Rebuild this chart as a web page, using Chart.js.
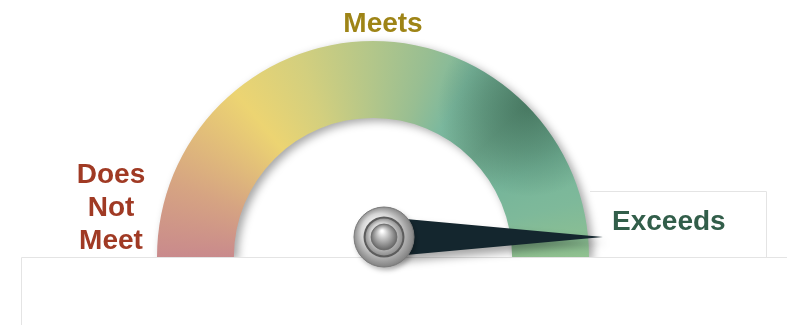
<!DOCTYPE html>
<html>
<head>
<meta charset="utf-8">
<title>Performance Gauge</title>
<script src="https://cdn.jsdelivr.net/npm/chart.js@4/dist/chart.umd.min.js"></script>
<style>
  html, body { margin: 0; padding: 0; background: #ffffff; }
  #gauge { display: block; }
</style>
</head>
<body>
<canvas id="gauge" width="787" height="325"></canvas>
<script>
// gauge scale and reading
const categories = ['Does Not Meet', 'Meets', 'Exceeds'];
const scaleMin = 0;
const scaleMax = 100;
const gaugeSpan = [scaleMax - scaleMin];
const needleValue = 100;

// colour stops along the arc, left end (0) to right end (0.5 of a full turn)
const stopPositions = [0, 0.056, 0.139, 0.194, 0.25, 0.292, 0.328, 0.375, 0.42, 0.458, 0.5];
const stopColors = ['#c98a8c', '#d6a482', '#ecd472', '#d3cf7e', '#b2c68a', '#98be92',
                    '#7bb89e', '#6fa88e', '#76b59a', '#7eb99a', '#90c190'];

const labelFont = 'bold 28px "Liberation Sans", Arial, sans-serif';

function gaugeCenter(chart) {
    const area = chart.chartArea;
    return {
        x: (area.left + area.right) / 2,
        y: area.bottom,
        r: (area.right - area.left) / 2
    };
}

// arc fill: conic colour sweep with a darker sheen on the upper right
let arcPattern = null;
function arcFill(context) {
    const chart = context.chart;
    if (!chart.chartArea) return stopColors[0];
    if (arcPattern) return arcPattern;
    const c = gaugeCenter(chart);
    const off = document.createElement('canvas');
    off.width = chart.width;
    off.height = chart.height;
    const o = off.getContext('2d');

    const g = o.createConicGradient(Math.PI, c.x, c.y);
    stopPositions.forEach((p, i) => g.addColorStop(p, stopColors[i]));
    g.addColorStop(1, stopColors[0]);
    o.fillStyle = g;
    o.fillRect(0, 0, off.width, off.height);

    const sx = c.x + c.r * 0.72, sy = c.y - c.r * 0.70;
    const sheen = o.createRadialGradient(sx, sy, 0, sx, sy, c.r * 0.42);
    sheen.addColorStop(0, 'rgba(40,82,62,0.55)');
    sheen.addColorStop(0.5, 'rgba(40,82,62,0.3)');
    sheen.addColorStop(1, 'rgba(40,82,62,0)');
    o.fillStyle = sheen;
    o.fillRect(0, 0, off.width, off.height);

    arcPattern = chart.ctx.createPattern(off, 'no-repeat');
    return arcPattern;
}

function drawHub(ctx, x, y) {
    ctx.save();
    ctx.shadowColor = 'rgba(0,0,0,0.3)';
    ctx.shadowBlur = 5;
    ctx.shadowOffsetX = 2;
    ctx.shadowOffsetY = 3;
    let g = ctx.createRadialGradient(x - 9, y - 11, 2, x, y, 32);
    g.addColorStop(0, '#ffffff');
    g.addColorStop(0.55, '#d6d6d6');
    g.addColorStop(1, '#777777');
    ctx.beginPath();
    ctx.arc(x, y, 30, 0, Math.PI * 2);
    ctx.fillStyle = g;
    ctx.fill();
    ctx.restore();

    ctx.beginPath();
    ctx.arc(x, y, 30, 0, Math.PI * 2);
    ctx.strokeStyle = '#7a7a7a';
    ctx.lineWidth = 1;
    ctx.stroke();

    // dark groove
    ctx.beginPath();
    ctx.arc(x, y, 20.5, 0, Math.PI * 2);
    ctx.fillStyle = '#5c5c5c';
    ctx.fill();

    g = ctx.createRadialGradient(x - 5, y - 7, 1, x, y, 19);
    g.addColorStop(0, '#fafafa');
    g.addColorStop(0.6, '#cfcfcf');
    g.addColorStop(1, '#8c8c8c');
    ctx.beginPath();
    ctx.arc(x, y, 18.5, 0, Math.PI * 2);
    ctx.fillStyle = g;
    ctx.fill();

    // centre ball
    g = ctx.createRadialGradient(x - 2, y - 6, 1, x, y, 14);
    g.addColorStop(0, '#ffffff');
    g.addColorStop(0.35, '#c4c4c4');
    g.addColorStop(1, '#5e5e5e');
    ctx.beginPath();
    ctx.arc(x, y, 13, 0, Math.PI * 2);
    ctx.fillStyle = g;
    ctx.fill();
    ctx.strokeStyle = '#6a6a6a';
    ctx.lineWidth = 0.8;
    ctx.stroke();
}

const gaugeDecor = {
    id: 'gaugeDecor',
    beforeDatasetsDraw(chart) {
        const ctx = chart.ctx;
        ctx.save();
        ctx.shadowColor = 'rgba(0,0,0,0.35)';
        ctx.shadowBlur = 9;
        ctx.shadowOffsetX = 4;
        ctx.shadowOffsetY = 3;
    },
    afterDatasetsDraw(chart) {
        const ctx = chart.ctx;
        ctx.restore();
        const c = gaugeCenter(chart);
        const w = chart.width, h = chart.height;

        // lower panel and label box outlines
        ctx.save();
        ctx.fillStyle = '#ffffff';
        ctx.fillRect(0, c.y, w, h - c.y);
        ctx.strokeStyle = '#e4e4e4';
        ctx.lineWidth = 1;
        ctx.beginPath();
        ctx.moveTo(21.5, h);
        ctx.lineTo(21.5, c.y + 0.5);
        ctx.lineTo(w, c.y + 0.5);
        ctx.moveTo(c.x + c.r + 1, 191.5);
        ctx.lineTo(766.5, 191.5);
        ctx.lineTo(766.5, c.y);
        ctx.stroke();
        ctx.restore();

        // needle
        const px = c.x + 11, py = c.y - 20;
        const frac = (needleValue - scaleMin) / (scaleMax - scaleMin);
        const ang = Math.PI + frac * Math.PI;
        const len = 219, half = 20;
        const tx = px + Math.cos(ang) * len, ty = py + Math.sin(ang) * len;
        const nx = -Math.sin(ang) * half, ny = Math.cos(ang) * half;
        ctx.save();
        ctx.shadowColor = 'rgba(0,0,0,0.35)';
        ctx.shadowBlur = 8;
        ctx.shadowOffsetX = 3;
        ctx.shadowOffsetY = 6;
        ctx.beginPath();
        ctx.moveTo(px + nx, py + ny);
        ctx.lineTo(tx, ty);
        ctx.lineTo(px - nx, py - ny);
        ctx.closePath();
        ctx.fillStyle = '#14262e';
        ctx.fill();
        ctx.restore();

        drawHub(ctx, px, py);

        // category labels
        ctx.save();
        ctx.font = labelFont;
        ctx.textBaseline = 'alphabetic';
        ctx.textAlign = 'center';
        ctx.fillStyle = '#a03a24';
        categories[0].split(' ').forEach((word, i) => {
            ctx.fillText(word, c.x - 262, c.y - 74 + i * 33);
        });
        ctx.fillStyle = '#9e8416';
        ctx.fillText(categories[1], c.x + 10, c.y - c.r - 9);
        ctx.textAlign = 'left';
        ctx.fillStyle = '#325e4a';
        ctx.fillText(categories[2], c.x + c.r + 23, c.y - 27);
        ctx.restore();
    }
};

new Chart(document.getElementById('gauge'), {
    type: 'doughnut',
    data: {
        labels: ['Scale'],
        datasets: [{
            data: gaugeSpan,
            backgroundColor: arcFill,
            borderWidth: 0
        }]
    },
    options: {
        responsive: false,
        devicePixelRatio: 1,
        animation: false,
        rotation: -90,
        circumference: 180,
        cutout: '64.4%',
        layout: { padding: { left: 157, right: 198, top: 41, bottom: 68 } },
        plugins: {
            legend: { display: false },
            tooltip: { enabled: false }
        }
    },
    plugins: [gaugeDecor]
});
</script>
</body>
</html>
